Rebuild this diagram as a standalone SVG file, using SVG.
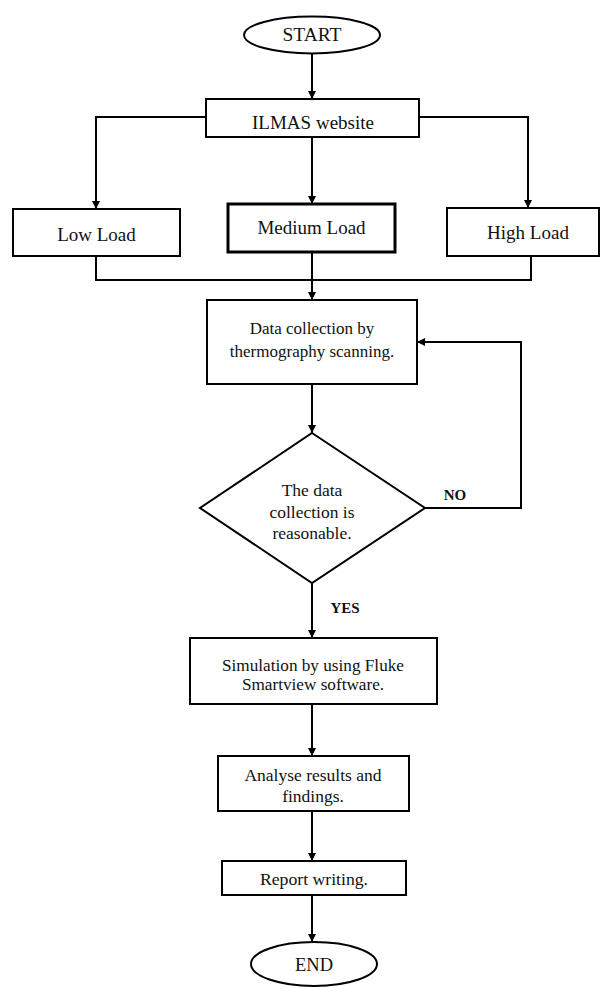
<svg xmlns="http://www.w3.org/2000/svg" width="601" height="987" viewBox="0 0 601 987">
<style>
.box{fill:#fff;stroke:#000;stroke-width:2}
.thick{stroke-width:3}
.ln{fill:none;stroke:#000;stroke-width:2}
.t{font-family:"Liberation Serif","Times New Roman",serif;fill:#111;text-anchor:middle}
.b{font-weight:bold}
</style>
<defs>
<marker id="ah" markerUnits="userSpaceOnUse" markerWidth="9" markerHeight="9" refX="8" refY="4.5" orient="auto">
<path d="M0,0.5 L8,4.5 L0,8.5 z" fill="#000"/>
</marker>
</defs>
<rect width="601" height="987" fill="#fff"/>
<g id="connectors">
<path class="ln" d="M312,53 V99" marker-end="url(#ah)"/>
<path class="ln" d="M206,117 H96 V209" marker-end="url(#ah)"/>
<path class="ln" d="M419,117 H528 V208" marker-end="url(#ah)"/>
<path class="ln" d="M312,137 V204" marker-end="url(#ah)"/>
<path class="ln" d="M96,256 V280 H531 V256"/>
<path class="ln" d="M312,252 V300" marker-end="url(#ah)"/>
<path class="ln" d="M312,384 V433" marker-end="url(#ah)"/>
<path class="ln" d="M425,508 H521 V342 H417" marker-end="url(#ah)"/>
<path class="ln" d="M312,583 V638" marker-end="url(#ah)"/>
<path class="ln" d="M312,704 V756" marker-end="url(#ah)"/>
<path class="ln" d="M312,811 V861" marker-end="url(#ah)"/>
<path class="ln" d="M312,895 V942" marker-end="url(#ah)"/>
<text class="t b" x="455" y="500" font-size="15">NO</text>
<text class="t b" x="345" y="613" font-size="15">YES</text>
</g>
<g id="start">
<ellipse class="box" cx="312" cy="35" rx="68" ry="18.5"/>
<text class="t" x="312" y="41" font-size="19.5">START</text>
</g>
<g id="ilmas">
<rect class="box" x="206" y="99" width="213" height="38"/>
<text class="t" x="313" y="129" font-size="19">ILMAS website</text>
</g>
<g id="low">
<rect class="box" x="13" y="209" width="167" height="47"/>
<text class="t" x="96.5" y="241" font-size="19">Low Load</text>
</g>
<g id="medium">
<rect class="box thick" x="228" y="204" width="167" height="48"/>
<text class="t" x="311.5" y="234" font-size="19">Medium Load</text>
</g>
<g id="high">
<rect class="box" x="447" y="208" width="152" height="48"/>
<text class="t" x="528" y="239" font-size="19">High Load</text>
</g>
<g id="datacollection">
<rect class="box" x="207" y="300" width="210" height="84"/>
<text class="t" x="312" y="334" font-size="17">Data collection by</text>
<text class="t" x="312" y="357" font-size="17">thermography scanning.</text>
</g>
<g id="decision">
<polygon class="box" points="312,433 425,508 312,583 200,508"/>
<text class="t" x="312" y="496" font-size="17.5">The data</text>
<text class="t" x="312" y="518" font-size="17.5">collection is</text>
<text class="t" x="312" y="539" font-size="17.5">reasonable.</text>
</g>
<g id="simulation">
<rect class="box" x="190" y="638" width="247" height="66"/>
<text class="t" x="313" y="671" font-size="17.2">Simulation by using Fluke</text>
<text class="t" x="313" y="690" font-size="17.2">Smartview software.</text>
</g>
<g id="analyse">
<rect class="box" x="218" y="756" width="191" height="55"/>
<text class="t" x="313" y="781" font-size="17.5">Analyse results and</text>
<text class="t" x="313" y="802" font-size="17.5">findings.</text>
</g>
<g id="report">
<rect class="box" x="222" y="861" width="184" height="34"/>
<text class="t" x="314" y="885" font-size="17.7">Report writing.</text>
</g>
<g id="end">
<ellipse class="box" cx="314" cy="964" rx="63" ry="22"/>
<text class="t" x="314" y="971" font-size="18.5">END</text>
</g>
</svg>
